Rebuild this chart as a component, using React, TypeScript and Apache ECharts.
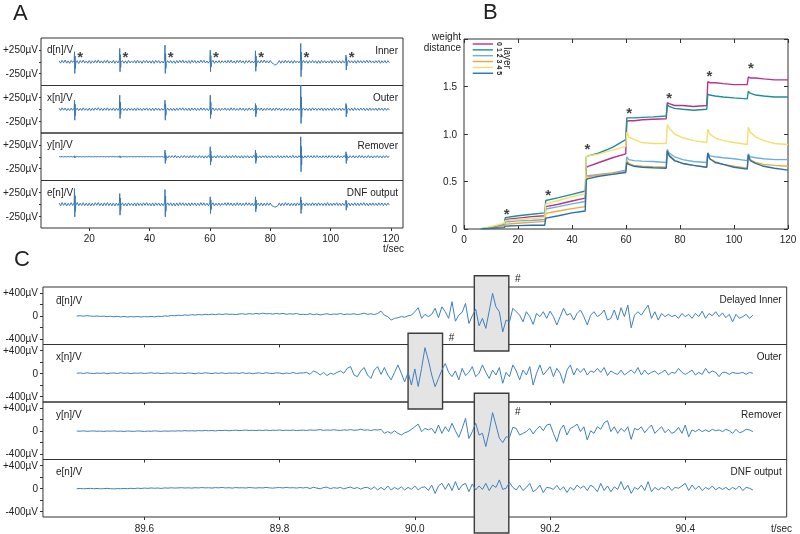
import { useEffect, useRef } from "react";
import * as echarts from "echarts";

const FONT = '"Liberation Sans", Arial, Helvetica, sans-serif';

// ---------------- Panel A : 10..119.5 s, two samples per second + spike bursts ----------------
const aStart = 10;
const aStep = 0.5;
const spikeTimes = [15, 30, 45, 60, 75, 90, 105];
const innerNoise = [
  18, -28, 32, -22, 36, -30, 20, -34, 26, -16,
  30, -26, 22, -38, 28, -20, 34, -26, 16, -30,
  26, -34, 20, -26, 30, -22, 38, -26, 20, -30,
  26, -20, 34, -30, 16, -26, 30, -34, 20, -26,
  34, -20, 26, -30, 20, -34, 30, -26, 16, -22,
  26, -30, 34, -26, 20, -34, 26, -20, 30, -26,
  20, -30, 26, -34, 30, -20, 26, -30, 16, -26,
  30, -34, 22, -24, 26, -30, 20, -34, 26, -26,
  30, -20, 34, -26, 20, -30, 26, -34, 30, -20,
  26, -30, 20, -26, 34, -20, 30, -26, 16, -30,
  26, -20, 30, -34, 20, -26, 26, -30, 20, -16,
  22, -28, 30, -24, 34, -26, 18, -32, 28, -22,
  32, -24, 20, -36, 26, -22, 30, -28, 18, -26,
  24, -32, 22, -28, 32, -20, 36, -24, 22, -28,
  28, -22, -40, -70, -55, -28, 26, -32, 22, -24,
  32, -22, 24, -28, 22, -32, 28, -24, 18, -24,
  28, -28, 32, -24, 22, -32, 24, -22, 28, -24,
  22, -32, 24, -32, 28, -22, 24, -28, 18, -24,
  28, -32, 24, -22, 24, -28, 22, -32, 24, -24,
  28, -22, 32, -24, 22, -28, 24, -32, 28, -22,
  24, -28, 22, -24, 32, -22, 28, -24, 18, -28,
  24, -22, 28, -32, 22, -24, 24, -28, 22, -18,
];
const outerNoise = [
  22, -26, 30, -20, 26, -32, 18, -28, 24, -22,
  28, -20, 24, -30, 20, -26, 30, -22, 18, -28,
  24, -30, 20, -24, 28, -18, 32, -24, 20, -28,
  24, -22, 30, -26, 18, -24, 28, -30, 22, -24,
  30, -20, 24, -28, 18, -30, 26, -22, 20, -26,
  24, -28, 30, -22, 18, -30, 24, -20, 28, -24,
  20, -28, 24, -30, 26, -20, 24, -28, 18, -22,
  26, -30, 22, -24, 20, -28, 22, -30, 24, -22,
  28, -20, 30, -24, 20, -28, 24, -30, 26, -20,
  24, -28, 20, -24, 30, -22, 26, -24, 18, -28,
  24, -20, 28, -30, 20, -24, 22, -28, 20, -18,
  26, -24, 20, -28, 30, -22, 24, -26, 18, -24,
  28, -22, 24, -30, 20, -26, 28, -20, 24, -28,
  20, -24, 28, -22, 26, -30, 20, -24, 28, -20,
  24, -28, 22, -26, 30, -20, 24, -28, 18, -26,
  28, -22, 20, -28, 24, -30, 26, -20, 22, -26,
  24, -30, 28, -22, 20, -26, 24, -28, 30, -20,
  22, -26, 24, -20, 28, -30, 22, -24, 26, -22,
  20, -28, 30, -24, 22, -20, 26, -30, 24, -22,
  28, -24, 20, -26, 24, -28, 30, -22, 20, -24,
  26, -20, 24, -30, 22, -26, 28, -24, 20, -22,
  24, -28, 26, -20, 22, -26, 24, -22, 20, -18,
];
const removerNoise = [
  3, -2, 4, -3, 2, -4, 3, -2, 4, -3,
  2, -3, 4, -2, 3, -4, 2, -3, 3, -2,
  4, -3, 2, -4, 3, -2, 3, -3, 4, -2,
  3, -4, 2, -3, 4, -2, 3, -3, 2, -4,
  4, -2, 3, -3, 2, -4, 3, -2, 4, -3,
  2, -3, 4, -2, 3, -4, 2, -3, 3, -2,
  4, -3, 2, -4, 3, -2, 3, -3, 4, -2,
  -24, 20, -26, 22, -18, 24, -20, 28, -24, 16,
  -26, 22, -18, 26, -22, 20, -26, 24, -20, 28,
  -22, 18, -24, 26, -20, 22, -28, 20, -24, 26,
  -18, 24, -22, 20, -26, 28, -20, 24, -26, 18,
  -22, 26, -28, 20, -24, 26, -18, 28, -22, 20,
  -26, 24, -28, 22, -20, 24, -26, 18, -24, 28,
  -20, 24, -22, 20, -26, 22, -18, 26, -28, 20,
  -22, 24, -26, 18, -20, 26, -24, 20, -28, 22,
  -18, 24, -26, 20, -22, 28, -24, 18, -26, 22,
  -20, 24, -28, 20, -24, 26, -18, 22, -26, 24,
  -20, 28, -22, 18, -26, 24, -20, 22, -28, 26,
  -18, 24, -22, 20, -26, 28, -24, 18, -20, 26,
  -24, 20, -28, 22, -18, 24, -26, 20, -22, 28,
  -20, 24, -26, 18, -22, 26, -24, 20, -28, 22,
  -18, 24, -22, 20, -26, 22, -20, 24, -18, 20,
];
const dnfNoise = [
  26, -32, 36, -24, 30, -36, 22, -30, 34, -26,
  30, -24, 36, -32, 22, -28, 34, -30, 24, -32,
  28, -36, 24, -30, 32, -22, 36, -28, 22, -34,
  30, -26, 34, -30, 22, -32, 28, -36, 24, -28,
  34, -24, 30, -32, 22, -36, 30, -26, 20, -30,
  28, -34, 32, -26, 22, -32, 30, -24, 34, -28,
  22, -32, 28, -36, 30, -24, 28, -32, 20, -30,
  32, -26, 30, -24, 30, -32, 24, -36, 28, -30,
  34, -24, 32, -28, 22, -32, 28, -36, 30, -24,
  28, -32, 22, -28, 34, -24, 30, -28, 20, -32,
  28, -24, 32, -36, 22, -28, 26, -32, 22, -20,
  30, -28, 34, -24, 26, -34, 22, -30, 32, -26,
  28, -32, 24, -30, 34, -22, 30, -28, 24, -34,
  32, -26, 22, -30, 28, -34, 24, -28, 30, -24,
  26, -30, -44, -60, -50, -30, 28, -34, 24, -28,
  34, -24, 28, -32, 22, -30, 26, -34, 30, -22,
  28, -30, 24, -34, 30, -26, 22, -28, 32, -24,
  26, -32, 30, -24, 22, -30, 28, -26, 34, -28,
  24, -30, 28, -22, 32, -28, 26, -32, 22, -26,
  30, -24, 28, -34, 22, -26, 30, -28, 24, -30,
  28, -22, 34, -28, 24, -32, 26, -24, 30, -26,
  22, -28, 30, -24, 26, -30, 22, -26, 24, -20,
];
const innerSpikeUp = [210, 280, 350, 245, 230, 385, 140];
const innerSpikeDown = [-245, -210, -245, -210, -200, -315, -175];
const innerSpikeUp2 = [120, 150, 170, 130, 120, 200, 90];
const innerSpikeDown2 = [-140, -120, -140, -110, -100, -170, -90];
const outerSpikeUp = [190, 295, 190, 295, 120, 520, 120];
const outerSpikeDown = [-230, -195, -230, -195, -160, -300, -160];
const outerSpikeUp2 = [110, 150, 110, 150, 80, 260, 80];
const outerSpikeDown2 = [-130, -110, -130, -110, -90, -170, -90];
const removerSpikeUp = [20, 20, 140, 210, 140, 420, 105];
const removerSpikeDown = [-20, -20, -140, -175, -140, -315, -140];
const removerSpikeUp2 = [10, 10, 80, 120, 80, 220, 60];
const removerSpikeDown2 = [-10, -10, -80, -100, -80, -170, -80];
const dnfSpikeUp = [330, 225, 310, 155, 155, 155, 85];
const dnfSpikeDown = [-265, -230, -265, -195, -160, -195, -125];
const dnfSpikeUp2 = [180, 130, 170, 90, 90, 90, 60];
const dnfSpikeDown2 = [-150, -130, -150, -110, -90, -110, -70];
const aStarTimes = [17, 32, 47, 62, 77, 92, 107];
const aStarLevel = 180;
const aXTicks = [20, 40, 60, 80, 100, 120];
const aYTicks = [-250, 0, 250];
const aYLabels = [-250, 250];
const aNames = ["d[n]/V", "x[n]/V", "y[n]/V", "e[n]/V"];
const aTags = ["Inner", "Outer", "Remover", "DNF output"];

// ---------------- Panel B : weight distance per layer ----------------
const bTimes = [6, 9, 12, 14.9, 15.3, 20, 25, 29.9, 30.3, 35, 40, 44.9, 45.3, 46, 50, 55, 59.9, 60.3, 61, 63, 66, 70, 74.9, 75.3, 76, 78, 81, 85, 89.9, 90.3, 91, 93, 96, 100, 104.9, 105.3, 106, 108, 111, 115, 120];
const layer0 = [0, 0.01, 0.03, 0.05, 0.10, 0.115, 0.13, 0.14, 0.235, 0.26, 0.295, 0.325, 0.65, 0.66, 0.70, 0.75, 0.79, 1.13, 1.14, 1.14, 1.15, 1.155, 1.16, 1.33, 1.32, 1.30, 1.30, 1.29, 1.30, 1.55, 1.54, 1.54, 1.53, 1.52, 1.52, 1.60, 1.59, 1.59, 1.58, 1.57, 1.57];
const layer1 = [0, 0.01, 0.03, 0.05, 0.12, 0.14, 0.155, 0.17, 0.30, 0.33, 0.365, 0.40, 0.76, 0.77, 0.80, 0.86, 0.94, 1.17, 1.17, 1.17, 1.175, 1.18, 1.19, 1.31, 1.29, 1.27, 1.26, 1.25, 1.26, 1.42, 1.41, 1.40, 1.39, 1.38, 1.37, 1.45, 1.43, 1.41, 1.40, 1.39, 1.39];
const layer2 = [0, 0.01, 0.02, 0.04, 0.075, 0.085, 0.09, 0.10, 0.21, 0.235, 0.265, 0.29, 0.56, 0.56, 0.575, 0.59, 0.62, 0.76, 0.73, 0.72, 0.715, 0.71, 0.70, 0.84, 0.80, 0.76, 0.73, 0.71, 0.70, 0.80, 0.77, 0.76, 0.75, 0.74, 0.72, 0.79, 0.76, 0.75, 0.74, 0.73, 0.73];
const layer3 = [0, 0.01, 0.02, 0.03, 0.05, 0.06, 0.07, 0.08, 0.165, 0.19, 0.215, 0.235, 0.55, 0.55, 0.57, 0.585, 0.605, 0.72, 0.69, 0.67, 0.66, 0.655, 0.65, 0.83, 0.78, 0.72, 0.69, 0.67, 0.65, 0.80, 0.74, 0.71, 0.68, 0.66, 0.64, 0.78, 0.73, 0.70, 0.68, 0.67, 0.66];
const layer4 = [0, 0.02, 0.04, 0.06, 0.09, 0.10, 0.11, 0.12, 0.265, 0.30, 0.34, 0.37, 0.76, 0.77, 0.79, 0.83, 0.87, 1.02, 0.97, 0.94, 0.91, 0.90, 0.90, 1.10, 1.06, 1.00, 0.96, 0.93, 0.91, 1.05, 1.00, 0.96, 0.93, 0.91, 0.89, 1.07, 1.02, 0.97, 0.93, 0.90, 0.89];
const layer5 = [0, 0.005, 0.01, 0.015, 0.03, 0.035, 0.04, 0.04, 0.115, 0.14, 0.17, 0.19, 0.52, 0.53, 0.555, 0.575, 0.595, 0.70, 0.68, 0.66, 0.65, 0.645, 0.64, 0.82, 0.77, 0.72, 0.69, 0.67, 0.65, 0.80, 0.74, 0.70, 0.68, 0.65, 0.63, 0.78, 0.72, 0.69, 0.66, 0.64, 0.62];
const bLayerNames = ["0", "1", "2", "3", "4", "5"];
const bColors = ["#b5338e", "#1f8f95", "#6eaee0", "#f0a735", "#f3df6c", "#2471b1"];
const bStarTimes = [15.8, 31.2, 45.7, 61.2, 76, 90.9, 106.3];
const bStarValues = [0.19, 0.40, 0.875, 1.255, 1.42, 1.65, 1.73];

// ---------------- Panel C : 89.5..90.5 s, 5 ms samples ----------------
const cStart = 89.5;
const cStep = 0.005;
const cDInner = [
  -5, 0, -8, 2, -5, -10, -4, -12, -6, -15, -8, -18, -10, -20, -12, -22, -15, -20, -12, -22, -15,
  -18, -12, -20, -8, -14, -2, -8, 5, 0, 10, 4, 15, 8, 18, 12, 22, 15, 25, 18, 28,
  20, 30, 22, 32, 25, 28, 20, 30, 35, 25, 38, 28, 40, 30, 45, 32, 38, 28, 40, 30, 42, 25, 35, 28, 40, 22,
  25, 20, 35, 20, 30, 15, 25, 35, 20, 30, 25, 40, 20, 30, 25, 35, 20, 30, 45, 25, 35, 20, 40,
  80, 10, -15, -75, -45, -35, -15, -25, 0, 10,
  70, 140, -45, 25, -15, 25, 130, -35, 155, 70,
  -45, 245, -95, 10, 60, 215, -135, 0, 115, -175,
  -45, -220, 80, 390, 155, 70, -280, -75, -105, 130,
  70, 10, -105, 70, -15, -150, 40, -15, 70, -45,
  80, -15, -160, -15, 130, 10, 40, -75, 40, 100,
  -15, -160, 10, 70, -15, 25, 100, -75, -45, 100,
  -75, 140, -15, 185, -210, 10, 70, 10, 100, 185,
  -45, 70, -75, 40, -15, 25, -15, 10, -45, 40,
  -15, 25, -45, 40, -15, 80, -45, 40, 0, 70,
  -15, 50, -35, 25, -105, 25, -45, -15, 25, -45, 10,
];
const cOuter = [
  0, 5, -5, 8, 0, -6, 4, -3, 6, -8, 2, 5, -4, 8, -2, 4, -6, 3, 0, 6,
  -5, 2, 8, -3, 5, -6, 0, 4, -4, 7, -2, 3, -5, 6,
  0, -8, 4, -3, 8, 2, -5, 5, -2, 8, -6, 3, 0, 6, -4, 10, -3, 5, -8, 2,
  6, -5, 10, 0, -6, 8, 3, -10, 5, -4, 12, -6, 4,
  5, 15, -20, 40, 15, -30, 15, -40, 0, -20, 15, 40, 0,
  85, 115, -30, -60, 40, 100, -30, -90, 55, 115,
  -20, 100, -30, -115, 15, 145, 0, -150, 15, -205,
  75, -230, 85, 445, 230, -30, -235, -90, 55, 170,
  15, -60, 40, -115, 85, -40, 15, 115, -60, 0,
  145, 15, -90, 55, -30, 100, -175, 15, -60, 145,
  40, -115, 55, -30, 115, -205, 0, 145, -30, 40,
  115, -60, 85, 0, -175, 55, 145, -30, 85, 15,
  85, -30, 40, 15, 85, 15, 100, -40, 40, 0,
  -20, 55, -30, 15, 55, 0, 100, -30, 55, -20,
  15, 40, -20, 15, 55, -30, 15, 0, 85, 15,
  -20, 15, 55, -30, 15, -20, 85, 0, 40, 15,
  -60, 15, 15, -20, 15, 0, 0, 15, -20, 15, 0,
];
const cRemover = [
  -5, -8, -2, -10, -6, -3, -9, -5, -12, -4, -8, -2, -10, -6, -12, -4, -8, -10, -3, -7,
  -12, -5, -9, -2, -6, -10, -4, -8, -3, -6, -1, -5, 2, -3,
  0, -4, 3, -2, 5, 0, 4, -3, 6, 2, 8, 0, 5, 10, 2, 7, 12, 4, 8, 2,
  10, 5, 12, 3, 9, 6, 14, 4, 10, 6, 12, 3, 8,
  10, 5, 15, 8, 12, 20, 6, 14, 8, 18, 10, 5, 15, 10, 20, 8, 12, 25, 10, 15, 5, 18, 12,
  25, -45, -15, -45, 0, -45, -75, -35, -15, 25,
  70, 115, -15, 40, 15, 40, -45, 100, -45, 70,
  -15, 130, 0, -115, 40, 215, -135, -15, 130, -75,
  -45, -275, -15, 315, 100, -130, -205, -105, -115, 60,
  40, -75, -45, -15, 40, -55, 25, 80, 0, 100,
  115, -45, -190, 15, 100, -75, 40, 70, 115, -15,
  70, -160, 0, -45, 70, 25, 140, 175, -15, 70,
  -45, 40, -15, 70, -150, 40, 15, 70, -35, 40,
  100, -45, 15, 70, -35, 25, -45, -15, 60, -45,
  100, -105, 15, -15, 25, -15, 15, -15, 25, 0,
  15, -15, 25, 0, -45, 25, -35, -15, 25, 15, -15,
];
const cDnf = [
  -8, -3, -10, -5, -2, -8, -4, -10, -6, -2, -7, -12, -5, -9, -3, -8, -1, -6, 2, -4,
  3, -2, 5, 0, 4, -3, 6, 2, 8, 3, 6, 10, 4, 8,
  2, 10, 5, 12, 6, 9, 3, 11, 7, 14, 5, 10, 2, 12, 6, 9, 4, 13, 8, 3,
  10, 5, 14, 7, 2, 9, 12, 5, 15, 6, 10, 3, 12,
  5, 15, -5, 18, 2, -10, 12, 20, -8, 10, 0, 15, -12, 8, 20, -5, 12, -15, 10,
  15, -20, 25, -30, 15, -30, 40, -30, 15, -20,
  25, -30, 15, -20, 40, -30, 15, 25, -40, 55,
  -90, 40, 85, -20, 85, -40, 115, -30, 55, 85,
  -60, 75, -30, 40, -20, 85, -40, 55, 15, 145,
  -20, 0, 100, 15, -30, 55, -40, 15, 85, -60,
  -20, 55, -75, 15,
  5, -20, 50, -30, 25, -75, 15, -30, 55, 0,
  40, -40, 55, 15, -60, 85, -40, 40, -60, 25,
  -20, 115, -30, 55, -90, 15, -20, 55, -40, 115,
  -60, 15, -30, 15, -20, 40, -40, 15, 0, 40,
  85, -40, 55, -20, 40, -40, 15, -20, 40, -30,
  15, -20, 15, -30, 15, -20, 40, -40, 15, 0, -30,
];
const cXTicks = [89.6, 89.8, 90.0, 90.2, 90.4];
const cYTicks = [-400, -200, 0, 200, 400];
const cYLabels = [-400, 0, 400];
const cNames = ["d\u0304[n]/V", "x[n]/V", "y[n]/V", "e[n]/V"];
const cTags = ["Delayed Inner", "Outer", "Remover", "DNF output"];
// highlighted windows (seconds) and the panels each box spans
const cBoxFrom = [90.088, 89.99, 90.088];
const cBoxTo = [90.139, 90.041, 90.139];
const cBoxTopPanel = [0, 1, 2];
const cBoxBottomPanel = [0, 1, 3];

// ---------------- layout ----------------
const A_LEFT = 41, A_W = 362, A_H = 47.5;
const A_TOPS = [38, 85.5, 133, 180.5];
const B_LEFT = 464, B_TOP = 39, B_W = 324, B_H = 190;
const C_LEFT = 41, C_W = 745.7, C_H = 57.5;
const C_TOPS = [287, 344.5, 402, 459.5];
const BOX_TOP_PAD = [11.3, 11.2, 8.7];
const BOX_BOTTOM_PAD = [6.5, 7, 16];
const HASH_DY = [2.5, 4.5, 18.5];
const TEXT = "#222";
const FRAME = "#333";
const A_COLOR = "#3b79b1";
const C_COLOR = "#3e80c0";
const SPIKE_OFFSETS = [0.1, 0.2, 0.3, 0.4];

function buildA(noise: number[], up: number[], down: number[], up2: number[], down2: number[]) {
  const out: number[][] = [];
  noise.forEach((v, k) => {
    const t = aStart + k * aStep;
    out.push([t, v]);
    const s = spikeTimes.indexOf(t);
    if (s >= 0) {
      const vals = [up[s], down[s], up2[s], down2[s]];
      vals.forEach((sv, j) => out.push([t + SPIKE_OFFSETS[j], sv]));
    }
  });
  return out;
}
function buildC(vals: number[]) {
  return vals.map((v, i) => [Math.round((cStart + i * cStep) * 1000) / 1000, v]);
}
const uv = (v: number) => (v > 0 ? "+" : "") + v + "\u00b5V";
const noLine = { show: false, onZero: false };

function buildOption() {
  const grids: any[] = [];
  A_TOPS.forEach((top) => grids.push({ left: A_LEFT, top, width: A_W, height: A_H, show: true, borderColor: FRAME, borderWidth: 1 }));
  grids.push({ left: B_LEFT, top: B_TOP, width: B_W, height: B_H, show: true, borderColor: FRAME, borderWidth: 1 });
  C_TOPS.forEach((top) => grids.push({ left: C_LEFT, top, width: C_W, height: C_H, show: true, borderColor: FRAME, borderWidth: 1 }));

  const lbl = { fontSize: 10, color: TEXT, fontFamily: FONT };
  const xAxis: any[] = [];
  const yAxis: any[] = [];
  A_TOPS.forEach((_, i) => {
    const last = i === A_TOPS.length - 1;
    xAxis.push({
      type: "value", gridIndex: i, min: 4, max: 124,
      axisLine: noLine, splitLine: { show: false },
      axisTick: last ? { show: true, customValues: aXTicks, length: 3, lineStyle: { color: FRAME } } : { show: false },
      axisLabel: last ? { show: true, customValues: aXTicks, margin: 5, ...lbl } : { show: false },
    });
    yAxis.push({
      type: "value", gridIndex: i, min: -500, max: 500,
      axisLine: noLine, splitLine: { show: false },
      axisTick: { show: true, customValues: aYTicks, length: 2, lineStyle: { color: FRAME } },
      axisLabel: { show: true, customValues: aYLabels, margin: 3, formatter: (v: number) => uv(v), ...lbl },
    });
  });
  // B
  xAxis.push({
    type: "value", gridIndex: 4, min: 0, max: 120, interval: 20,
    axisLine: noLine, splitLine: { show: false },
    axisTick: { show: true, inside: true, length: 4, lineStyle: { color: FRAME } },
    axisLabel: { show: true, margin: 5, ...lbl },
  });
  xAxis.push({
    type: "value", gridIndex: 4, position: "top", min: 0, max: 120, interval: 20,
    axisLine: noLine, splitLine: { show: false },
    axisTick: { show: true, inside: true, length: 4, lineStyle: { color: FRAME } },
    axisLabel: { show: false },
  });
  yAxis.push({
    type: "value", gridIndex: 4, min: 0, max: 2, interval: 0.5,
    axisLine: noLine, splitLine: { show: false },
    axisTick: { show: true, inside: true, length: 4, lineStyle: { color: FRAME } },
    axisLabel: { show: true, margin: 7, formatter: (v: number) => (v === 0 ? "0" : v >= 2 ? "" : v.toFixed(1)), ...lbl },
  });
  yAxis.push({
    type: "value", gridIndex: 4, position: "right", min: 0, max: 2, interval: 0.5,
    axisLine: noLine, splitLine: { show: false },
    axisTick: { show: true, inside: true, length: 4, lineStyle: { color: FRAME } },
    axisLabel: { show: false },
  });
  // C
  C_TOPS.forEach((_, i) => {
    const last = i === C_TOPS.length - 1;
    xAxis.push({
      type: "value", gridIndex: 5 + i, min: 89.45, max: 90.55,
      axisLine: noLine, splitLine: { show: false },
      axisTick: { show: true, customValues: cXTicks, length: 3, lineStyle: { color: FRAME } },
      axisLabel: last ? { show: true, customValues: cXTicks, margin: 6, formatter: (v: number) => v.toFixed(1), ...lbl } : { show: false },
    });
    yAxis.push({
      type: "value", gridIndex: 5 + i, min: -500, max: 500,
      axisLine: noLine, splitLine: { show: false },
      axisTick: { show: true, customValues: cYTicks, length: 3, lineStyle: { color: FRAME } },
      axisLabel: { show: true, customValues: cYLabels, margin: 5, formatter: (v: number) => (v === 0 ? "0" : uv(v)), ...lbl },
    });
  });

  const series: any[] = [];
  const aData = [
    buildA(innerNoise, innerSpikeUp, innerSpikeDown, innerSpikeUp2, innerSpikeDown2),
    buildA(outerNoise, outerSpikeUp, outerSpikeDown, outerSpikeUp2, outerSpikeDown2),
    buildA(removerNoise, removerSpikeUp, removerSpikeDown, removerSpikeUp2, removerSpikeDown2),
    buildA(dnfNoise, dnfSpikeUp, dnfSpikeDown, dnfSpikeUp2, dnfSpikeDown2),
  ];
  aData.forEach((d, i) =>
    series.push({ type: "line", xAxisIndex: i, yAxisIndex: i, data: d, showSymbol: false, lineStyle: { width: 1, color: A_COLOR }, z: 2 })
  );
  const star = (offsetY: number) => ({
    type: "scatter", symbolSize: 2, itemStyle: { color: "rgba(0,0,0,0)" }, z: 5,
    label: { show: true, position: "inside", formatter: "*", fontSize: 15, fontWeight: "bold", color: "#111", fontFamily: FONT, offset: [0, offsetY] },
  });
  series.push({ ...star(3), xAxisIndex: 0, yAxisIndex: 0, data: aStarTimes.map((t) => [t, aStarLevel]) });

  const layers = [layer0, layer1, layer2, layer3, layer4, layer5];
  layers.forEach((vals, li) =>
    series.push({
      type: "line", name: bLayerNames[li], xAxisIndex: 4, yAxisIndex: 4,
      data: bTimes.map((t, k) => [t, vals[k]]), showSymbol: false,
      lineStyle: { width: 1.4, color: bColors[li] }, z: 2,
    })
  );
  series.push({ ...star(3), xAxisIndex: 4, yAxisIndex: 4, data: bStarTimes.map((t, k) => [t, bStarValues[k]]) });

  [cDInner, cOuter, cRemover, cDnf].forEach((vals, i) =>
    series.push({ type: "line", xAxisIndex: 6 + i, yAxisIndex: 6 + i, data: buildC(vals), showSymbol: false, lineStyle: { width: 1, color: C_COLOR }, z: 2 })
  );

  return {
    animation: false,
    textStyle: { fontFamily: FONT },
    grid: grids,
    xAxis,
    yAxis,
    series,
  };
}

function txt(x: number, y: number, text: string, opts: any = {}) {
  return {
    type: "text", x, y, rotation: opts.rotation || 0, z: 10,
    style: {
      text, fill: opts.fill || TEXT, fontSize: opts.fontSize || 10, fontFamily: FONT,
      fontWeight: opts.fontWeight || "normal",
      textAlign: opts.align || "left", textVerticalAlign: "middle",
    },
  };
}

function buildGraphics(chart: any) {
  const g: any[] = [];
  g.push(txt(13, 12.5, "A", { fontSize: 22 }));
  g.push(txt(483, 11, "B", { fontSize: 22 }));
  g.push(txt(14, 258.5, "C", { fontSize: 22 }));
  A_TOPS.forEach((top, i) => {
    g.push(txt(47, top + 11.5, aNames[i]));
    g.push(txt(A_LEFT + A_W - 5, top + 12, aTags[i], { align: "right" }));
  });
  g.push(txt(404, 248, "t/sec", { align: "right" }));
  C_TOPS.forEach((top, i) => {
    g.push(txt(56, top + (i === 0 ? 13.5 : 12), cNames[i]));
    g.push(txt(C_LEFT + C_W - 5, top + 12, cTags[i], { align: "right" }));
  });
  g.push(txt(792, 528, "t/sec", { align: "right" }));
  g.push(txt(461, 36, "weight", { align: "right" }));
  g.push(txt(461, 47, "distance", { align: "right" }));
  // legend of panel B
  bLayerNames.forEach((name, li) => {
    const y = 44 + li * 5.85;
    g.push({ type: "line", z: 10, shape: { x1: 472.7, y1: y, x2: 493, y2: y }, style: { stroke: bColors[li], lineWidth: 1.4 } });
    g.push(txt(499.5, y, name, { align: "center", fontSize: 7, fontWeight: "bold", rotation: -Math.PI / 2 }));
  });
  g.push(txt(507.5, 58, "layer", { align: "center", rotation: -Math.PI / 2 }));
  // highlighted windows in panel C
  cBoxFrom.forEach((from, b) => {
    const x1 = chart.convertToPixel({ xAxisIndex: 6 + cBoxTopPanel[b] }, from);
    const x2 = chart.convertToPixel({ xAxisIndex: 6 + cBoxTopPanel[b] }, cBoxTo[b]);
    const y1 = C_TOPS[cBoxTopPanel[b]] - BOX_TOP_PAD[b];
    const y2 = C_TOPS[cBoxBottomPanel[b]] + C_H + BOX_BOTTOM_PAD[b];
    g.push({
      type: "rect", z: 1,
      shape: { x: x1, y: y1, width: x2 - x1, height: y2 - y1 },
      style: { fill: "#e4e4e4", stroke: "#3c3c3c", lineWidth: 1.4 },
    });
    g.push(txt(x2 + 9, y1 + HASH_DY[b], "#", { align: "center" }));
  });
  return g;
}

export default function App() {
  const ref = useRef<HTMLDivElement>(null);
  useEffect(() => {
    const chart = echarts.init(ref.current!, null, { renderer: "svg" });
    chart.setOption(buildOption() as any);
    chart.setOption({ graphic: buildGraphics(chart) } as any);
    return () => chart.dispose();
  }, []);
  return <div ref={ref} style={{ position: "fixed", left: 0, top: 0, width: 800, height: 534 }} />;
}
